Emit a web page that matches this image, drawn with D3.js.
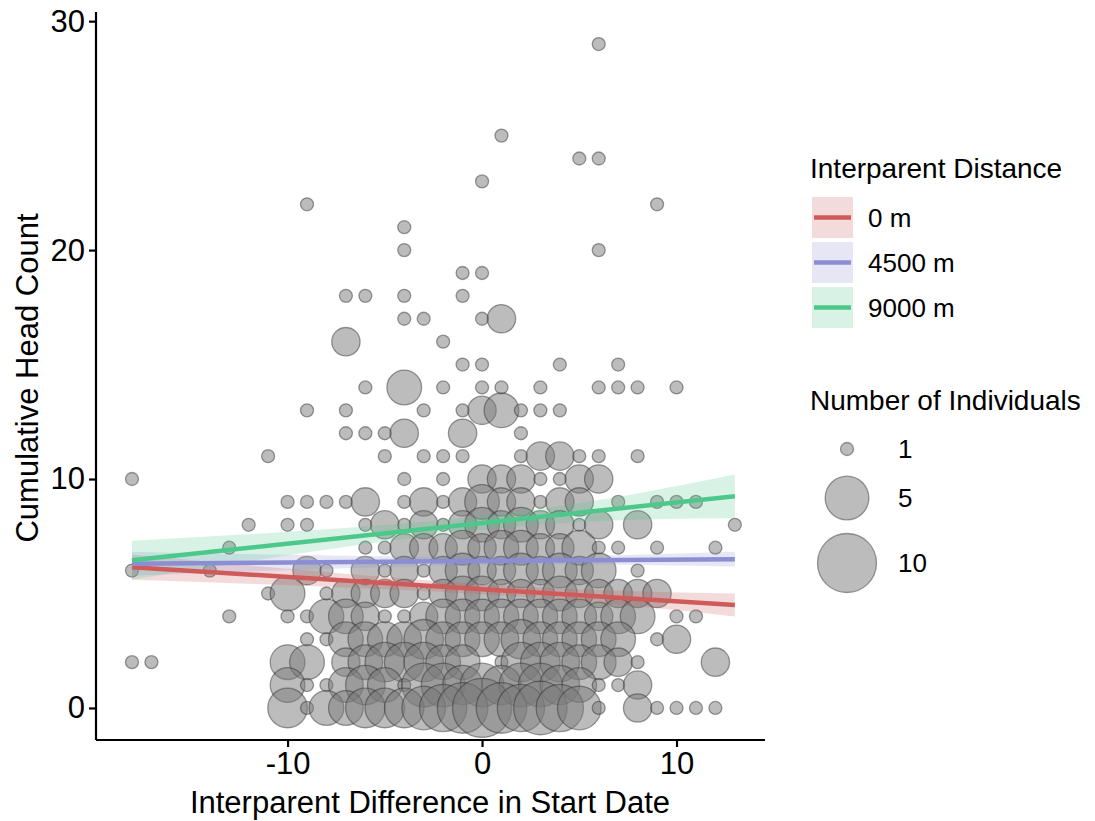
<!DOCTYPE html>
<html><head><meta charset="utf-8">
<script src="https://cdn.jsdelivr.net/npm/d3@7"></script>
<style>
body{margin:0;background:#fff}
svg{display:block}
text{font-family:"Liberation Sans",Arial,sans-serif;fill:#000}
</style>
</head><body>
<svg id="chart" width="1095" height="821"></svg>
<script>
// ---------- data ----------
const xTicks = [-10, 0, 10];
const yTicks = [0, 10, 20, 30];
const xTitle = "Interparent Difference in Start Date";
const yTitle = "Cumulative Head Count";

// [start-date difference, cumulative head count, number of individuals]
const points = [
  [6,29,1],[1,25,1],[5,24,1],[6,24,1],[0,23,1],[-9,22,1],[9,22,1],[-4,21,1],[-4,20,1],[6,20,1],
  [-1,19,1],[0,19,1],[-7,18,1],[-6,18,1],[-4,18,1],[-1,18,1],
  [-4,17,1],[-3,17,1],[0,17,1],[1,17,2],[-7,16,2],[-2,16,1],
  [-1,15,1],[0,15,1],[4,15,1],[7,15,1],
  [-6,14,1],[-4,14,3],[-2,14,1],[0,14,1],[1,14,1],[3,14,1],[6,14,1],[7,14,1],[8,14,1],[10,14,1],
  [-9,13,1],[-7,13,1],[-3,13,1],[-1,13,1],[0,13,2],[1,13,3],[2,13,1],[3,13,1],[4,13,1],
  [-7,12,1],[-6,12,1],[-5,12,1],[-4,12,2],[-1,12,2],[2,12,1],
  [-11,11,1],[-5,11,1],[-3,11,1],[-2,11,1],[-1,11,1],[2,11,1],[3,11,2],[4,11,2],[5,11,1],[6,11,1],[8,11,1],
  [-18,10,1],[-4,10,1],[-2,10,1],[0,10,2],[1,10,2],[2,10,2],[3,10,1],[4,10,1],[5,10,2],[6,10,2],
  [-10,9,1],[-9,9,1],[-8,9,1],[-7,9,1],[-6,9,2],[-4,9,1],[-3,9,2],[-2,9,1],[-1,9,2],[0,9,3],[1,9,2],[2,9,2],[3,9,1],[4,9,2],[5,9,2],[7,9,1],[9,9,1],[10,9,1],[11,9,1],
  [-12,8,1],[-10,8,1],[-9,8,1],[-6,8,1],[-5,8,2],[-4,8,1],[-3,8,2],[-2,8,1],[-1,8,2],[0,8,3],[1,8,2],[2,8,3],[3,8,2],[4,8,2],[5,8,1],[6,8,2],[8,8,2],[13,8,1],
  [-13,7,1],[-6,7,1],[-5,7,1],[-4,7,2],[-3,7,2],[-2,7,2],[-1,7,3],[0,7,2],[1,7,3],[2,7,3],[3,7,2],[4,7,2],[5,7,3],[6,7,1],[7,7,1],[9,7,1],[12,7,1],
  [-18,6,1],[-14,6,1],[-9,6,2],[-8,6,1],[-6,6,2],[-5,6,1],[-4,6,2],[-3,6,1],[-2,6,2],[-1,6,3],[0,6,2],[1,6,2],[2,6,3],[3,6,2],[4,6,3],[5,6,2],[6,6,3],[8,6,1],
  [-11,5,1],[-10,5,3],[-8,5,1],[-7,5,2],[-6,5,2],[-5,5,2],[-4,5,2],[-3,5,1],[-2,5,2],[-1,5,3],[0,5,3],[1,5,2],[2,5,2],[3,5,2],[4,5,3],[5,5,2],[6,5,2],[7,5,2],[8,5,2],[9,5,2],
  [-13,4,1],[-10,4,1],[-9,4,1],[-8,4,3],[-7,4,3],[-6,4,2],[-5,4,1],[-4,4,1],[-3,4,2],[-2,4,3],[-1,4,3],[0,4,3],[1,4,3],[2,4,3],[3,4,3],[4,4,3],[5,4,3],[6,4,2],[7,4,3],[8,4,3],[10,4,1],[11,4,1],
  [-9,3,1],[-8,3,1],[-7,3,3],[-6,3,3],[-5,3,3],[-4,3,3],[-3,3,4],[-2,3,3],[-1,3,3],[0,3,3],[1,3,3],[2,3,4],[3,3,3],[4,3,3],[5,3,3],[6,3,3],[7,3,3],[9,3,1],[10,3,2],
  [-18,2,1],[-17,2,1],[-10,2,3],[-9,2,3],[-7,2,2],[-6,2,3],[-5,2,4],[-4,2,4],[-3,2,4],[-2,2,3],[-1,2,3],[1,2,1],[2,2,4],[3,2,4],[4,2,4],[5,2,3],[6,2,3],[7,2,2],[8,2,1],[12,2,2],
  [-10,1,3],[-9,1,1],[-8,1,1],[-7,1,3],[-6,1,4],[-5,1,3],[-4,1,1],[-3,1,5],[-2,1,5],[-1,1,4],[0,1,5],[1,1,4],[2,1,5],[3,1,5],[4,1,4],[5,1,3],[6,1,1],[7,1,1],[8,1,2],
  [-10,0,4],[-9,0,1],[-8,0,3],[-7,0,3],[-6,0,4],[-5,0,4],[-4,0,4],[-3,0,5],[-2,0,6],[-1,0,7],[0,0,10],[1,0,7],[2,0,6],[3,0,8],[4,0,6],[5,0,5],[6,0,1],[8,0,2],[9,0,1],[10,0,1],[11,0,1],[12,0,1]
];

// fitted lines with confidence bands, one per interparent distance
const distanceLabels = ["0 m", "4500 m", "9000 m"];
const distanceColors = ["#CF5A5A", "#8C8ED3", "#4DC88B"];
const fitX  = [-18, 0, 13];
const fit0m    = [6.15, 5.19, 4.50];
const lower0m  = [5.60, 4.97, 4.00];
const upper0m  = [6.70, 5.41, 5.00];
const fit4500  = [6.30, 6.42, 6.50];
const lower4500= [5.78, 6.24, 6.18];
const upper4500= [6.82, 6.60, 6.82];
const fit9000  = [6.45, 8.08, 9.25];
const lower9000= [5.60, 7.78, 8.30];
const upper9000= [7.30, 8.38, 10.20];

const sizeBreaks = [1, 5, 10];

// ---------- chart ----------
const svg = d3.select("#chart");
const x = d3.scaleLinear().domain([-19.85, 14.55]).range([96, 765]);
const y = d3.scaleLinear().domain([-1.4, 30.4]).range([740, 12]);
const rExtra = d3.scaleSqrt().domain([0, 9]).range([0, 23]);
const r = n => 6.5 + rExtra(n - 1);

// points
svg.append("g").selectAll("circle").data(points).join("circle")
  .attr("cx", d => x(d[0])).attr("cy", d => y(d[1])).attr("r", d => r(d[2]))
  .attr("fill", "#7a7a7a").attr("fill-opacity", 0.5)
  .attr("stroke", "#2a2a2a").attr("stroke-opacity", 0.45).attr("stroke-width", 1.3);

// bands + lines
const series = [
  {fit: fit0m, lo: lower0m, hi: upper0m},
  {fit: fit4500, lo: lower4500, hi: upper4500},
  {fit: fit9000, lo: lower9000, hi: upper9000}
];
const area = d3.area().curve(d3.curveNatural)
  .x(d => x(d.x)).y0(d => y(d.lo)).y1(d => y(d.hi));
const line = d3.line().x(d => x(d.x)).y(d => y(d.v));
const gB = svg.append("g");
series.forEach((s, i) => {
  const rows = fitX.map((xv, j) => ({x: xv, lo: s.lo[j], hi: s.hi[j]}));
  gB.append("path").attr("d", area(rows))
    .attr("fill", distanceColors[i]).attr("fill-opacity", 0.22);
});
series.forEach((s, i) => {
  const rows = fitX.map((xv, j) => ({x: xv, v: s.fit[j]}));
  gB.append("path").attr("d", line(rows)).attr("fill", "none")
    .attr("stroke", distanceColors[i]).attr("stroke-width", 4.5);
});

// axes
const fmt = d => String(d); // plain hyphen-minus as in the reference
const xAxis = svg.append("g").attr("transform", "translate(0,740)")
  .call(d3.axisBottom(x).tickValues(xTicks).tickFormat(fmt).tickSize(7).tickPadding(5));
const yAxis = svg.append("g").attr("transform", "translate(96,0)")
  .call(d3.axisLeft(y).tickValues(yTicks).tickFormat(fmt).tickSize(7).tickPadding(4));
[xAxis, yAxis].forEach(g => {
  g.select(".domain").attr("stroke", "#000").attr("stroke-width", 2.2);
  g.selectAll(".tick line").attr("stroke", "#000").attr("stroke-width", 2.2);
  g.selectAll(".tick text").attr("font-size", 31).attr("fill", "#111")
    .style("font-family", '"Liberation Sans", Arial, sans-serif');
});
xAxis.select(".domain").attr("d", "M96,0H765");
yAxis.select(".domain").attr("d", "M0,12V740");

svg.append("text").attr("x", 430).attr("y", 813).attr("text-anchor", "middle")
  .attr("font-size", 31).attr("fill", "#111").text(xTitle);
svg.append("text").attr("transform", "translate(38,378) rotate(-90)")
  .attr("text-anchor", "middle").attr("font-size", 31).attr("fill", "#111").text(yTitle);

// legend: distance
const lg = svg.append("g");
lg.append("text").attr("x", 810).attr("y", 178).attr("font-size", 28).text("Interparent Distance");
distanceLabels.forEach((lab, i) => {
  const top = 197 + i * 45;
  lg.append("rect").attr("x", 812).attr("y", top).attr("width", 41).attr("height", 41)
    .attr("fill", distanceColors[i]).attr("fill-opacity", 0.22);
  lg.append("line").attr("x1", 814).attr("x2", 851).attr("y1", top + 20.5).attr("y2", top + 20.5)
    .attr("stroke", distanceColors[i]).attr("stroke-width", 4.5);
  lg.append("text").attr("x", 868).attr("y", top + 20.5).attr("dy", "0.35em")
    .attr("font-size", 26).text(lab);
});

// legend: size
lg.append("text").attr("x", 810).attr("y", 410).attr("font-size", 28).text("Number of Individuals");
const sizeY = [449, 498, 563];
sizeBreaks.forEach((n, i) => {
  lg.append("circle").attr("cx", 847).attr("cy", sizeY[i]).attr("r", r(n))
    .attr("fill", "#7a7a7a").attr("fill-opacity", 0.5)
    .attr("stroke", "#2a2a2a").attr("stroke-opacity", 0.45).attr("stroke-width", 1.3);
  lg.append("text").attr("x", 898).attr("y", sizeY[i]).attr("dy", "0.35em")
    .attr("font-size", 26).text(n);
});
</script>
</body></html>
